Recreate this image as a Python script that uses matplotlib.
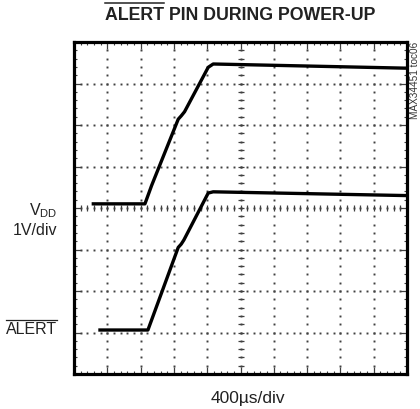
import numpy as np
import matplotlib
matplotlib.use("Agg")
import matplotlib.pyplot as plt
from matplotlib import font_manager

# scope screen: 10 x 8 divisions, traces (in divisions)
vdd_x = [0.58, 2.13, 2.33, 3.13, 3.22, 3.32, 4.03, 4.18, 9.94, 10.0]
vdd_y = [4.10, 4.10, 4.54, 6.14, 6.22, 6.32, 7.39, 7.47, 7.37, 7.37]

alert_x = [0.78, 2.22, 3.13, 3.22, 3.30, 4.03, 4.18, 9.94, 10.0]
alert_y = [1.06, 1.06, 3.05, 3.13, 3.23, 4.36, 4.39, 4.30, 4.30]

n_xdiv = 10
n_ydiv = 8

title = "ALERT PIN DURING POWER-UP"
vdd_label = r"V$_{\mathrm{DD}}$"
scale_label = "1V/div"
alert_label = "ALERT"
time_label = "400\u00b5s/div"
code_label = "MAX34451 toc06"

names = set(f.name for f in font_manager.fontManager.ttflist)
fam = "Liberation Sans Narrow" if "Liberation Sans Narrow" in names else "Liberation Sans"
plt.rcParams['font.family'] = [fam, 'DejaVu Sans']
plt.rcParams['mathtext.fontset'] = 'custom'
plt.rcParams['mathtext.rm'] = fam
plt.rcParams['mathtext.it'] = fam

fig = plt.figure(figsize=(4.2, 4.1), dpi=100)
ax = fig.add_axes([74/420, 1-375/410, 333/420, 332/410])
ax.set_xlim(0, n_xdiv)
ax.set_ylim(0, n_ydiv)

# dotted graticule
for i in range(1, n_xdiv):
    yy = np.arange(1, n_ydiv*5) / 5
    ax.plot(np.full_like(yy, i), yy, ls='none', marker='s', ms=1.4, mew=0, color='0.25')
for j in range(1, n_ydiv):
    xx = np.arange(1, n_xdiv*5) / 5
    ax.plot(xx, np.full_like(xx, j), ls='none', marker='s', ms=1.4, mew=0, color='0.25')

# centre cross with minor ticks
xx = np.arange(1, n_xdiv*5) / 5
ax.plot(xx, np.full_like(xx, n_ydiv/2), ls='none', marker='|', ms=4, mew=0.9, color='0.25')
yy = np.arange(1, n_ydiv*5) / 5
ax.plot(np.full_like(yy, n_xdiv/2), yy, ls='none', marker='_', ms=4, mew=0.9, color='0.25')

# traces
ax.plot(vdd_x, vdd_y, color='black', lw=2.4, solid_joinstyle='round')
ax.plot(alert_x, alert_y, color='black', lw=2.4, solid_joinstyle='round')

ax.set_xticks(range(n_xdiv+1))
ax.set_yticks(range(n_ydiv+1))
ax.set_xticks(np.arange(0, n_xdiv*5+1)/5, minor=True)
ax.set_yticks(np.arange(0, n_ydiv*5+1)/5, minor=True)
ax.tick_params(which='both', direction='in', top=True, right=True,
               labelbottom=False, labelleft=False, color='0.25')
ax.tick_params(which='major', length=5, width=0.9)
ax.tick_params(which='minor', length=2.5, width=0.8)
for s in ax.spines.values():
    s.set_linewidth(2.3)

# texts
t = fig.text(240/420, 1-15/410, title, ha='center', va='center',
             fontsize=12.8, fontweight='bold', color='#222222')
fig.text(57/420, 1-211/410, vdd_label, ha='right', va='center', fontsize=11.5, color='#222222')
fig.text(57/420, 1-231/410, scale_label, ha='right', va='center', fontsize=11.5, color='#222222')
a = fig.text(57/420, 1-330/410, alert_label, ha='right', va='center', fontsize=11.5, color='#222222')
fig.text(248/420, 1-399/410, time_label, ha='center', va='center', fontsize=12.5, color='#222222')
fig.text(415/420, 1-42/410, code_label, ha='center', va='top', rotation=90,
         fontsize=7.2, color='#333333')

# overlines above "ALERT"
r = fig.canvas.get_renderer()
tb = t.get_window_extent(r)
probe = fig.text(0, 0, "ALERT", ha='left', va='baseline',
                 fontsize=12.8, fontweight='bold', transform=None)
pw = probe.get_window_extent(r).width
probe.remove()
fig.add_artist(plt.Line2D([tb.x0, tb.x0+pw], [tb.y1+2.5, tb.y1+2.5], transform=None,
                          color='#222222', lw=1.1))
ab = a.get_window_extent(r)
fig.add_artist(plt.Line2D([ab.x0, ab.x1], [ab.y1+1.5, ab.y1+1.5], transform=None,
                          color='#222222', lw=0.9))

fig.savefig("out.png", dpi=100)
